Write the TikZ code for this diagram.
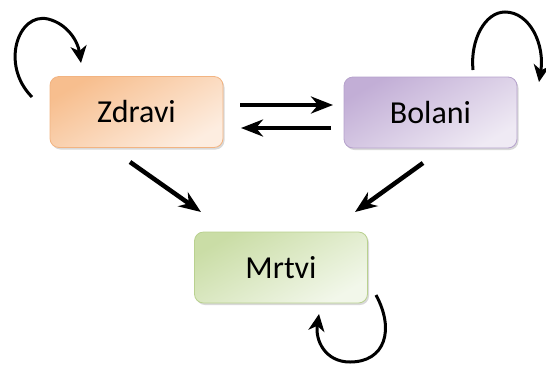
\documentclass[tikz,border=0pt]{standalone}
\usepackage{fontspec}
\setmainfont{Carlito}
\usetikzlibrary{arrows.meta,shadows}
\definecolor{zdbord}{HTML}{F2B482}
\definecolor{zddark}{HTML}{F7BE8E}
\definecolor{zdlight}{HTML}{FDEDE0}
\definecolor{bobord}{HTML}{B6A2CC}
\definecolor{bodark}{HTML}{C2AED6}
\definecolor{bolight}{HTML}{EFEAF4}
\definecolor{mrbord}{HTML}{B9D18F}
\definecolor{mrdark}{HTML}{CADDA6}
\definecolor{mrlight}{HTML}{F2F7EA}
\tikzset{
  x=1pt, y=-1pt,
  statebox/.style={rounded corners=9pt, minimum width=173pt, minimum height=71pt,
    inner sep=0pt, font=\fontsize{32}{36}\selectfont, line width=0.8pt,
    drop shadow={shadow xshift=1.5pt, shadow yshift=-2pt, opacity=0.25, fill=black!60}},
  flow/.style={line width=4.5pt, -{Stealth[length=22pt, width=17pt, inset=7pt]}},
  loop/.style={line width=3pt, -{Stealth[length=17pt, width=16pt, inset=5pt]}}
}
\begin{document}
\begin{tikzpicture}
\useasboundingbox (0,0) rectangle (546,365);
\node[statebox, draw=zdbord, shading=axis, top color=zddark, bottom color=zdlight, shading angle=30]
  (zd) at (136.5,112) {Zdravi};
\node[statebox, draw=bobord, shading=axis, top color=bodark, bottom color=bolight, shading angle=30]
  (bo) at (430.5,112.5) {Bolani};
\node[statebox, draw=mrbord, shading=axis, top color=mrdark, bottom color=mrlight, shading angle=30]
  (mr) at (281,267.5) {Mrtvi};

% transitions between states
\coordinate (z1) at (240,105);
\coordinate (b1) at (333,105);
\coordinate (b2) at (331,128);
\coordinate (z2) at (241,128);
\draw[flow] (z1) -- (b1);
\draw[flow] (b2) -- (z2);
\coordinate (zs) at (130,162);
\coordinate (mz) at (201,212);
\coordinate (bs) at (423,163);
\coordinate (mb) at (355,212);
\draw[flow] (zs) -- (mz);
\draw[flow] (bs) -- (mb);

% self loops
\coordinate (za) at (32,97);
\coordinate (zb) at (81,63);
\draw[loop] (za) .. controls (0,65) and (18,12) .. (48,19) .. controls (68,24) and (78,42) .. (zb);
\coordinate (ba) at (473,70);
\coordinate (bb) at (539,82);
\draw[loop] (ba) .. controls (470,40) and (485,12) .. (505,12) .. controls (530,12) and (545,45) .. (bb);
\coordinate (ma) at (376,295);
\coordinate (mb2) at (319,314);
\draw[loop] (ma) .. controls (395,330) and (385,362) .. (350,362) .. controls (325,362) and (315,340) .. (mb2);
\end{tikzpicture}
\end{document}
